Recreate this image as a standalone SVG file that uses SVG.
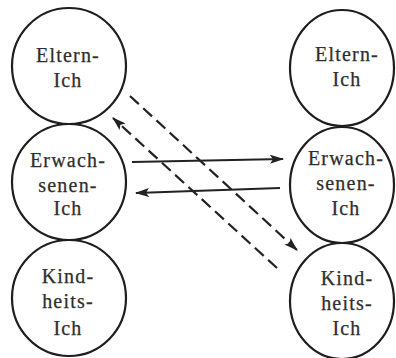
<svg xmlns="http://www.w3.org/2000/svg" width="396" height="358" viewBox="0 0 396 358">
  <style>
    .ego { fill: #ffffff; stroke: #1e1e1e; stroke-width: 2.2; }
    .lbl { font-family: "Liberation Serif", "Times New Roman", serif; font-size: 20px; letter-spacing: 1.2px; fill: #2e2e2e; stroke: #2e2e2e; stroke-width: 0.25; text-anchor: middle; }
    .solid { stroke: #222; stroke-width: 2.2; fill: none; }
    .dash { stroke: #222; stroke-width: 2.2; fill: none; stroke-dasharray: 12 6; }
  </style>
  <defs>
    <marker id="head" viewBox="0 0 14 10" refX="13" refY="5" markerWidth="14" markerHeight="10" markerUnits="userSpaceOnUse" orient="auto">
      <path d="M0,0.5 L14,5 L0,9.5 L3,5 Z" fill="#222"/>
    </marker>
  </defs>

  <!-- left person: three ego states -->
  <g id="left-eltern">
    <ellipse class="ego" cx="69" cy="66" rx="57" ry="58"/>
    <text class="lbl" x="68" y="62">Eltern-</text>
    <text class="lbl" x="68" y="87">Ich</text>
  </g>
  <g id="left-erwachsenen">
    <ellipse class="ego" cx="69" cy="182" rx="57" ry="58"/>
    <text class="lbl" x="68" y="167">Erwach-</text>
    <text class="lbl" x="68" y="192">senen-</text>
    <text class="lbl" x="68" y="215">Ich</text>
  </g>
  <g id="left-kindheits">
    <ellipse class="ego" cx="69" cy="298" rx="57" ry="58"/>
    <text class="lbl" x="68" y="283">Kind-</text>
    <text class="lbl" x="68" y="308">heits-</text>
    <text class="lbl" x="68" y="335">Ich</text>
  </g>

  <!-- right person: three ego states -->
  <g id="right-eltern">
    <ellipse class="ego" cx="342" cy="68" rx="52" ry="58"/>
    <text class="lbl" x="347" y="61">Eltern-</text>
    <text class="lbl" x="347" y="86">Ich</text>
  </g>
  <g id="right-erwachsenen">
    <ellipse class="ego" cx="342" cy="185" rx="52" ry="58"/>
    <text class="lbl" x="346" y="165">Erwach-</text>
    <text class="lbl" x="346" y="190">senen-</text>
    <text class="lbl" x="346" y="215">Ich</text>
  </g>
  <g id="right-kindheits">
    <ellipse class="ego" cx="342" cy="301" rx="52" ry="58"/>
    <text class="lbl" x="347" y="285">Kind-</text>
    <text class="lbl" x="347" y="310">heits-</text>
    <text class="lbl" x="347" y="335">Ich</text>
  </g>

  <!-- transactions: overt (solid) and hidden (dashed) -->
  <g id="connectors">
    <line class="solid" x1="132" y1="162" x2="283" y2="159" marker-end="url(#head)"/>
    <line class="solid" x1="280" y1="188" x2="136" y2="193" marker-end="url(#head)"/>
    <line class="dash" x1="130" y1="96" x2="297" y2="250" marker-end="url(#head)"/>
    <line class="dash" x1="277" y1="268" x2="113" y2="118" marker-end="url(#head)"/>
  </g>
</svg>
